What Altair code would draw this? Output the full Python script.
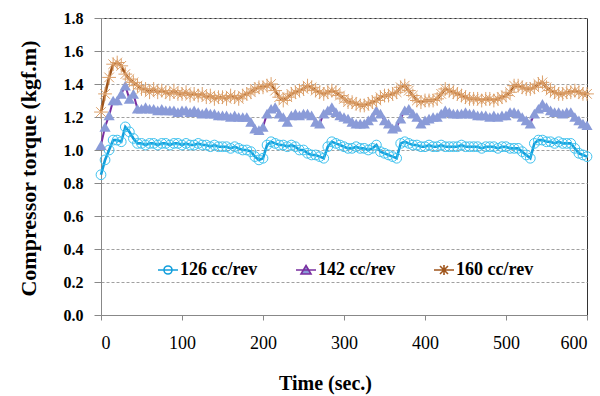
import altair as alt
import pandas as pd

times = list(range(0, 601, 5))

series_names = ["126 cc/rev", "142 cc/rev", "160 cc/rev"]

v126 = [
    0.85, 0.94, 1.00, 1.06, 1.06, 1.05, 1.14, 1.11, 1.07, 1.04,
    1.04, 1.03, 1.04, 1.04, 1.03, 1.04, 1.04, 1.03, 1.04, 1.04,
    1.03, 1.04, 1.03, 1.03, 1.04, 1.03, 1.03, 1.02, 1.03, 1.02,
    1.02, 1.02, 1.01, 1.02, 1.01, 1.00, 1.00, 0.99, 0.96, 0.94,
    0.95, 1.03, 1.05, 1.04, 1.03, 1.03, 1.02, 1.03, 1.02, 1.00,
    1.00, 0.98, 0.97, 0.97, 0.96, 0.95, 1.02, 1.05, 1.04, 1.03,
    1.02, 1.01, 1.01, 1.02, 1.01, 1.01, 1.00, 1.01, 1.03, 0.99,
    0.98, 0.97, 0.96, 0.95, 1.04, 1.05, 1.04, 1.03, 1.03, 1.02,
    1.02, 1.03, 1.02, 1.02, 1.03, 1.02, 1.02, 1.02, 1.02, 1.03,
    1.02, 1.02, 1.02, 1.02, 1.01, 1.02, 1.02, 1.02, 1.01, 1.02,
    1.02, 1.01, 1.01, 1.01, 0.99, 0.97, 0.95, 1.04, 1.06, 1.06,
    1.05, 1.05, 1.04, 1.05, 1.04, 1.04, 1.04, 1.01, 0.98, 0.97, 0.96,
]

v142 = [
    1.03, 1.14, 1.21, 1.30, 1.30, 1.34, 1.39, 1.31, 1.34, 1.25,
    1.25, 1.26, 1.25, 1.25, 1.24, 1.25, 1.24, 1.24, 1.24, 1.23,
    1.24, 1.24, 1.23, 1.24, 1.23, 1.22, 1.23, 1.22, 1.22, 1.21,
    1.21, 1.21, 1.20, 1.21, 1.20, 1.20, 1.20, 1.17, 1.13, 1.12,
    1.14, 1.22, 1.25, 1.26, 1.22, 1.20, 1.17, 1.21, 1.22, 1.21,
    1.22, 1.22, 1.21, 1.17, 1.16, 1.22, 1.24, 1.26, 1.23, 1.21,
    1.20, 1.19, 1.17, 1.16, 1.16, 1.16, 1.18, 1.20, 1.24, 1.22,
    1.18, 1.16, 1.13, 1.14, 1.19, 1.24, 1.25, 1.22, 1.20, 1.16,
    1.18, 1.19, 1.20, 1.20, 1.22, 1.24, 1.23, 1.22, 1.22, 1.22,
    1.23, 1.22, 1.22, 1.21, 1.21, 1.21, 1.20, 1.21, 1.20, 1.21,
    1.21, 1.23, 1.23, 1.22, 1.20, 1.18, 1.16, 1.22, 1.25, 1.28,
    1.26, 1.24, 1.23, 1.23, 1.22, 1.23, 1.23, 1.20, 1.18, 1.16, 1.15,
]

v160 = [
    1.23, 1.34, 1.44, 1.52, 1.53, 1.51, 1.46, 1.43, 1.41, 1.39,
    1.37, 1.37, 1.35, 1.37, 1.35, 1.36, 1.35, 1.34, 1.36, 1.34,
    1.34, 1.35, 1.33, 1.34, 1.33, 1.34, 1.32, 1.33, 1.31, 1.32,
    1.32, 1.31, 1.33, 1.32, 1.31, 1.33, 1.34, 1.35, 1.37, 1.38,
    1.38, 1.39, 1.40, 1.36, 1.32, 1.30, 1.32, 1.34, 1.35, 1.36,
    1.37, 1.39, 1.38, 1.36, 1.35, 1.34, 1.35, 1.36, 1.35, 1.33,
    1.31, 1.29, 1.29, 1.28, 1.27, 1.27, 1.28, 1.29, 1.30, 1.32,
    1.33, 1.33, 1.34, 1.35, 1.38, 1.39, 1.36, 1.33, 1.30, 1.29,
    1.30, 1.30, 1.30, 1.31, 1.34, 1.37, 1.36, 1.35, 1.34, 1.33,
    1.32, 1.31, 1.31, 1.31, 1.30, 1.31, 1.31, 1.30, 1.31, 1.32,
    1.33, 1.35, 1.39, 1.39, 1.38, 1.37, 1.37, 1.38, 1.40, 1.41,
    1.38, 1.36, 1.35, 1.34, 1.34, 1.35, 1.35, 1.36, 1.35, 1.34, 1.34,
]

y_ticks = [0.0, 0.2, 0.4, 0.6, 0.8, 1.0, 1.2, 1.4, 1.6, 1.8]
x_ticks = [0, 100, 200, 300, 400, 500, 600]

line_colors = ["#139fdc", "#7a2fa0", "#a0561c"]
marker_colors = ["#3fc2ef", "#8a9bd8", "#dca06a"]

rows = []
for name, vals in zip(series_names, [v126, v142, v160]):
    for t, v in zip(times, vals):
        rows.append({"time": t, "torque": v, "series": name})
df = pd.DataFrame(rows)

FONT = "Liberation Serif"

x_enc = alt.X(
    "time:Q",
    scale=alt.Scale(domain=[0, 600], nice=False),
    axis=alt.Axis(
        values=x_ticks, title="Time (sec.)", grid=False,
        labelFont=FONT, labelFontSize=18, labelFontWeight="normal", labelColor="#000",
        labelPadding=14, tickSize=5, tickColor="#888", domainColor="#888",
        titleFont=FONT, titleFontSize=20, titleFontWeight="bold", titleColor="#000",
        titleX=224, titleY=68, titleBaseline="middle", titleAlign="center",
    ),
)
y_enc = alt.Y(
    "torque:Q",
    scale=alt.Scale(domain=[0, 1.8], nice=False),
    axis=alt.Axis(
        values=y_ticks, format=".1f", title="Compressor torque (kgf.m)",
        grid=True, gridDash=[3, 2], gridColor="#a0a0a0", gridWidth=1,
        labelFont=FONT, labelFontSize=16, labelFontWeight="bold", labelColor="#000",
        labelPadding=11, tickSize=7, tickColor="#888", domainColor="#888",
        titleFont=FONT, titleFontSize=22, titleFontWeight="bold", titleColor="#000",
        titleX=-73, titleY=150, titleAngle=270, titleBaseline="middle", titleAlign="center",
    ),
)

legend_shapes = [
    "M-1,0L1,0M-0.4,0A0.4,0.4 0 1,1 0.4,0A0.4,0.4 0 1,1 -0.4,0",
    "M-1,0L1,0M0,-0.45L0.5,0.4L-0.5,0.4Z",
    "M-1,0L1,0M0,-0.5L0,0.5M-0.4,-0.4L0.4,0.4M-0.4,0.4L0.4,-0.4",
]
legend_fills = ["transparent", "#8a9bd8", "transparent"]

legend = alt.Legend(
    title=None, orient="none", direction="horizontal", columns=3,
    legendX=56, legendY=241,
    symbolSize=400, symbolStrokeWidth=1.6, symbolOpacity=1,
    labelFont=FONT, labelFontSize=18, labelFontWeight="bold", labelColor="#000",
    labelOffset=1, columnPadding=34,
)

base = alt.Chart(df).encode(x=x_enc, y=y_enc)

legend_layer = base.transform_filter("false").mark_point(opacity=1, strokeWidth=1.6).encode(
    shape=alt.Shape("series:N", scale=alt.Scale(domain=series_names, range=legend_shapes), legend=legend),
    stroke=alt.Stroke("series:N", scale=alt.Scale(domain=series_names, range=line_colors), legend=legend),
    fill=alt.Fill("series:N", scale=alt.Scale(domain=series_names, range=legend_fills), legend=legend),
)

def sel(i):
    return base.transform_filter(alt.datum.series == series_names[i])

line126 = sel(0).mark_line(strokeWidth=2.6, color=line_colors[0])
circles = sel(0).mark_point(
    shape="circle", filled=False, stroke=marker_colors[0], strokeWidth=1, size=95, opacity=1
)
line142 = sel(1).mark_line(strokeWidth=2, color=line_colors[1])
tris = sel(1).mark_point(
    shape="triangle-up", filled=True, fill=marker_colors[1], size=125, opacity=1
)
line160 = sel(2).mark_line(strokeWidth=2.6, color=line_colors[2])
stars = sel(2).mark_point(
    shape="M-1,0L1,0M0,-1L0,1M-0.7,-0.7L0.7,0.7M-0.7,0.7L0.7,-0.7",
    filled=False, stroke=marker_colors[2], strokeWidth=1, size=190, opacity=1
)

chart = alt.layer(
    line126, circles, line142, tris, line160, stars, legend_layer
).properties(
    width=486, height=297,
    autosize=alt.AutoSizeParams(type="none"),
    padding={"left": 101, "top": 18, "right": 13, "bottom": 81},
    background="white",
).configure_view(stroke="#333", strokeWidth=1)

chart.save("out.html", embed_options={"renderer": "svg", "actions": False})
